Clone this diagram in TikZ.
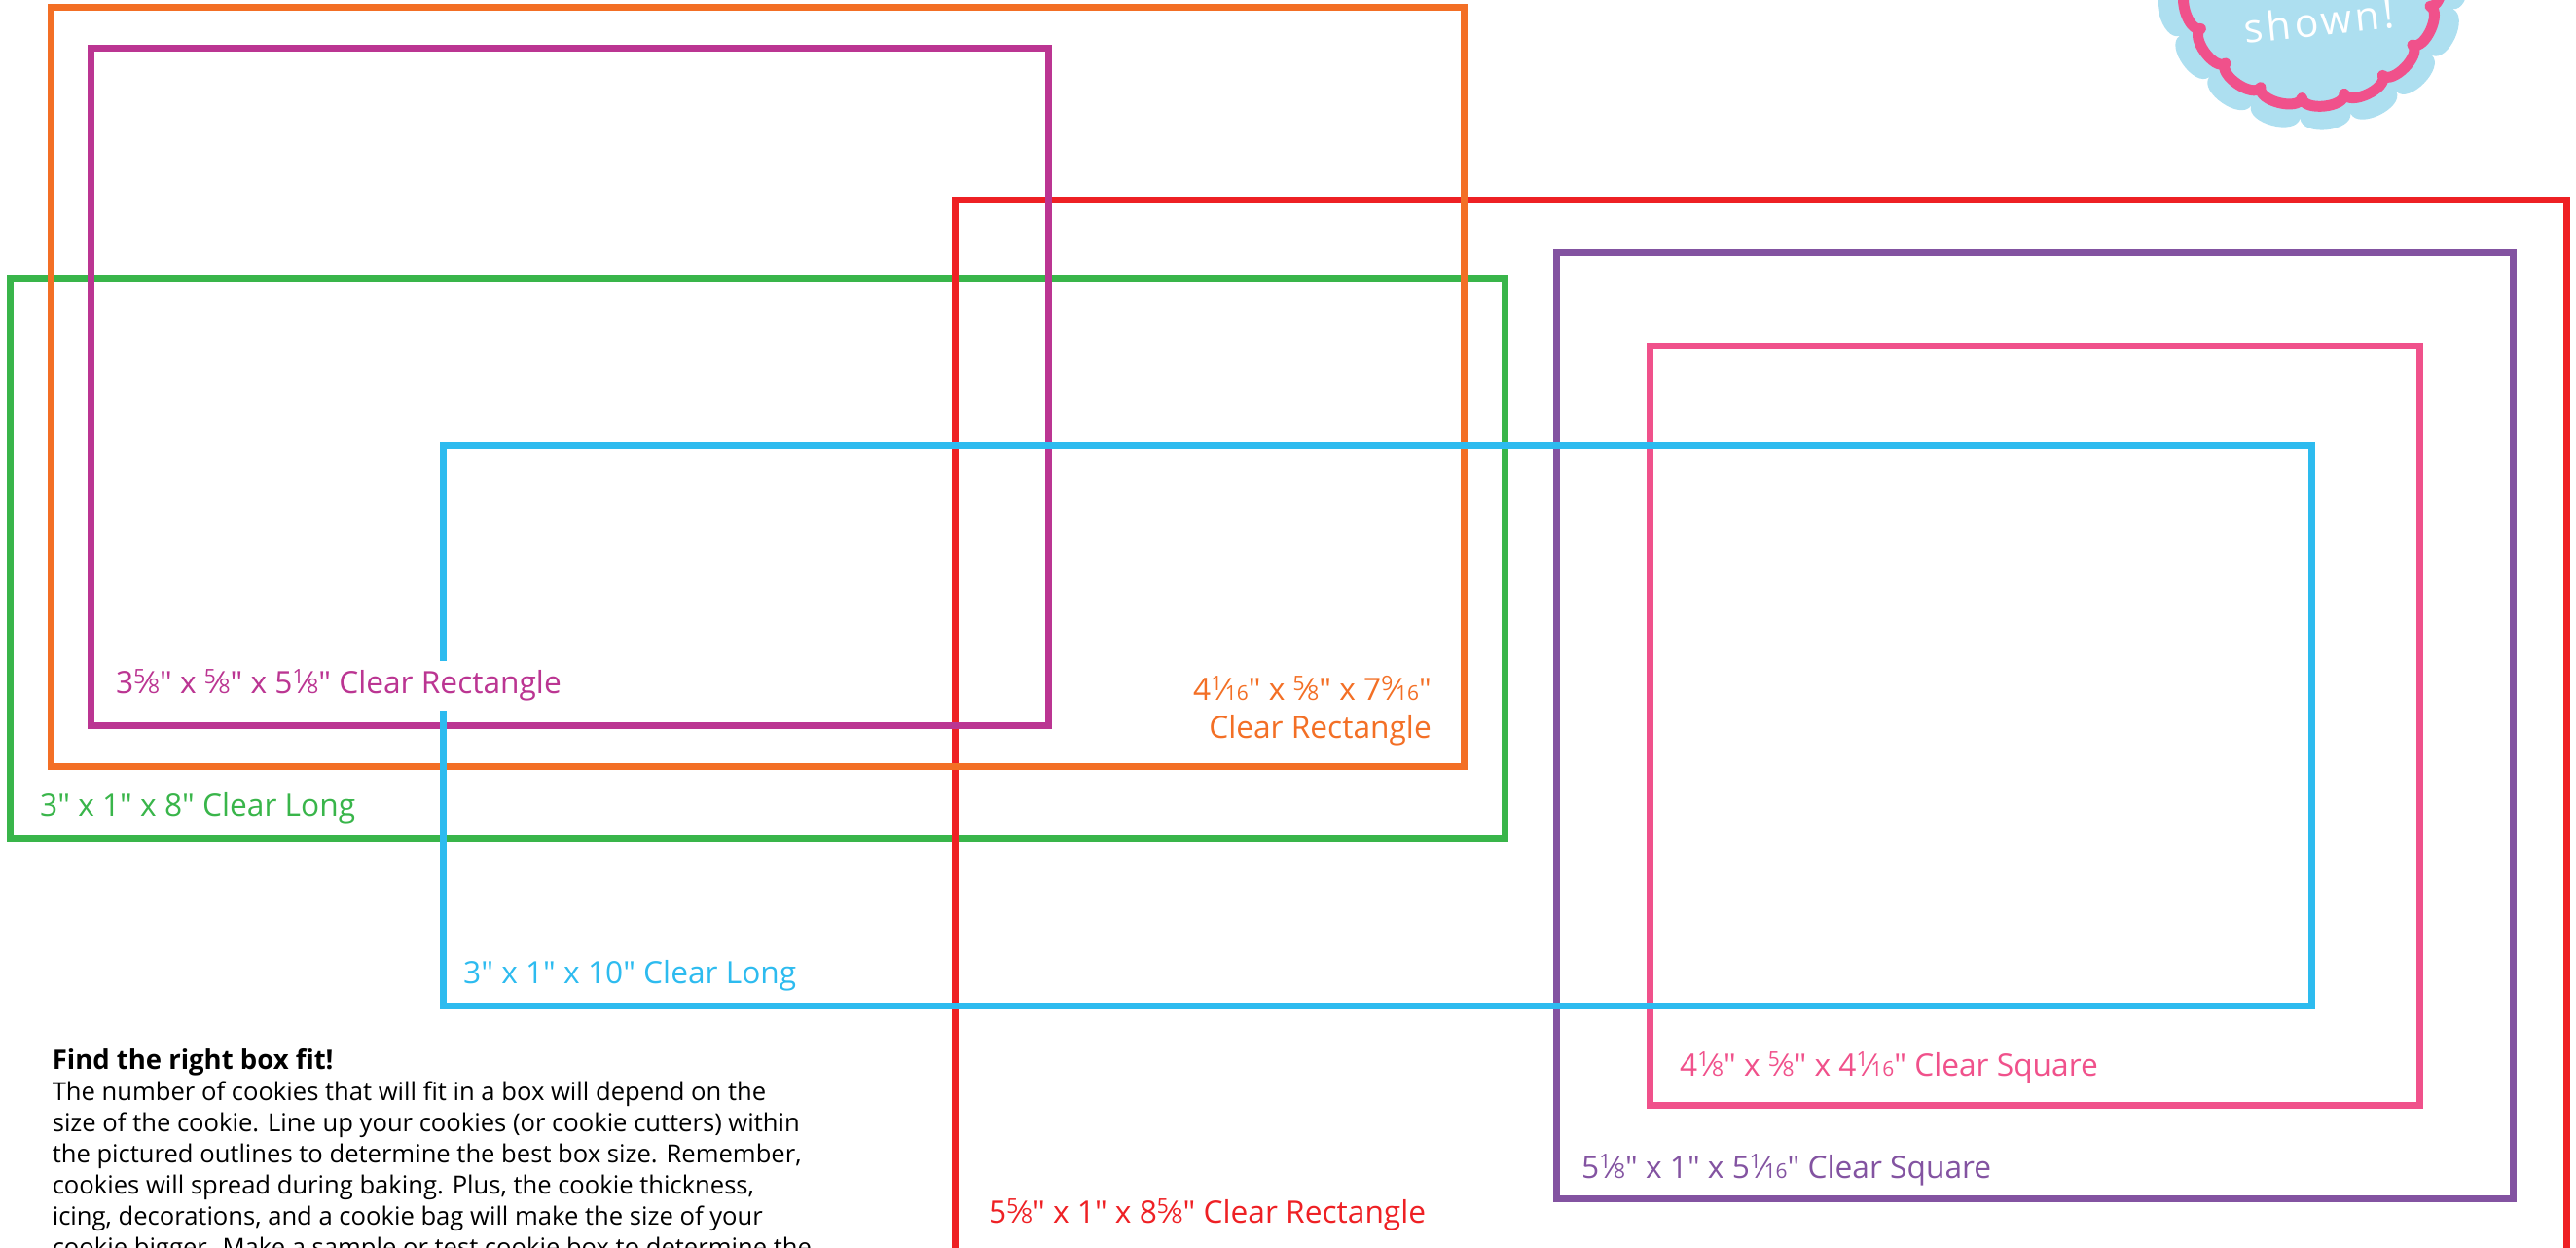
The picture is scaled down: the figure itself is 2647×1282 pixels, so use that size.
\documentclass[tikz,border=0pt]{standalone}
\usepackage{fontspec}
\newfontfamily\boxfont{Open Sans}
\newfontfamily\badgefont{Open Sans}[LetterSpace=9]
\definecolor{cgreen}{HTML}{39B54A}
\definecolor{cred}{HTML}{EE2024}
\definecolor{corange}{HTML}{F36F25}
\definecolor{cmag}{HTML}{BB3592}
\definecolor{cpurple}{HTML}{8353A1}
\definecolor{cpink}{HTML}{F0518B}
\definecolor{ccyan}{HTML}{2DBBEF}
\definecolor{cbadge}{HTML}{ADDFF0}
\newcommand\frc[2]{\raisebox{.3em}{\scalebox{.66}{#1}}\kern-.02em\char"2044\kern-.02em\scalebox{.66}{#2}}
\tikzset{
  boxline/.style={line width=7pt,miter limit=10,line join=miter},
  lbl/.style={inner sep=0pt,anchor=base west,font=\boxfont\fontsize{31.7}{32}\selectfont},
  lblr/.style={inner sep=0pt,anchor=base east,font=\boxfont\fontsize{31.7}{32}\selectfont},
}
\begin{document}
\begin{tikzpicture}[x=1pt,y=-1pt]
\useasboundingbox (0,0) rectangle (2647,1282);
\clip (0,0) rectangle (2647,1282);
% badge
\begin{scope}[shift={(2375,-28)}]
\fill[cbadge] (94.4:150) foreach \a in {94.4,114.4,...,434.4} { .. controls (\a+1:169) and (\a+19:169) .. (\a+20:150) } -- cycle;
\end{scope}
\begin{scope}[shift={(2375,-25)}]
\draw[cpink,line width=11pt,line join=round] (94.4:126) foreach \a in {94.4,114.4,...,434.4} { .. controls (\a+1:140) and (\a+19:140) .. (\a+20:126) } -- cycle;
\end{scope}
\node[inner sep=0pt,anchor=base west,rotate=6,text=white,font=\badgefont\fontsize{41}{41}\selectfont] (shown) at (2307,45) {shown!};
% boxes
\draw[boxline,cgreen] (10.7,286) rectangle (1546.7,861.7);
\draw[boxline,cred] (981.6,1400) -- (981.6,205.3) -- (2637.7,205.3) -- (2637.7,1400);
\draw[boxline,corange] (52.7,7.3) rectangle (1504.7,787);
\draw[boxline,cmag] (93.3,49.3) rectangle (1077.3,745);
\draw[boxline,cpurple] (1599,259.3) rectangle (2582.7,1231.3);
\draw[boxline,cpink] (1695,355.3) rectangle (2486.7,1135.3);
\draw[boxline,ccyan] (455.7,457.3) rectangle (2375.7,1033.3);
\fill[white] (119,679) rectangle (584,730);
% labels
\node[lbl,text=cmag] (lmag) at (119,712) {3\frc{5}{8}" x \frc{5}{8}" x 5\frc{1}{8}" Clear Rectangle};
\node[lblr,text=corange] (lor1) at (1471,719) {4\frc{1}{16}" x \frc{5}{8}" x 7\frc{9}{16}"};
\node[lblr,text=corange] (lor2) at (1471,758) {Clear Rectangle};
\node[lbl,text=cgreen] (lgr) at (41,838) {3" x 1" x 8" Clear Long};
\node[lbl,text=ccyan] (lcy) at (476,1010.7) {3" x 1" x 10" Clear Long};
\node[lbl,text=cpink] (lpk) at (1726,1105) {4\frc{1}{8}" x \frc{5}{8}" x 4\frc{1}{16}" Clear Square};
\node[lbl,text=cpurple] (lpu) at (1625,1210) {5\frc{1}{8}" x 1" x 5\frc{1}{16}" Clear Square};
\node[lbl,text=cred] (lre) at (1016,1256) {5\frc{5}{8}" x 1" x 8\frc{5}{8}" Clear Rectangle};
% text
\node[inner sep=0pt,anchor=base west,font=\boxfont\fontsize{27.5}{28}\bfseries\selectfont] (title) at (53.6,1098) {Find the right box fit!};
\node[inner sep=0pt,anchor=base west,align=left,font=\boxfont\fontsize{25.6}{32}\selectfont] (para) at (53.6,1130) {\begin{tabular}[t]{@{}l@{}}The number of cookies that will fit in a box will depend on the\\
size of the cookie. Line up your cookies (or cookie cutters) within\\
the pictured outlines to determine the best box size. Remember,\\
cookies will spread during baking. Plus, the cookie thickness,\\
icing, decorations, and a cookie bag will make the size of your\\
cookie bigger. Make a sample or test cookie box to determine the\end{tabular}};
\end{tikzpicture}
\end{document}
